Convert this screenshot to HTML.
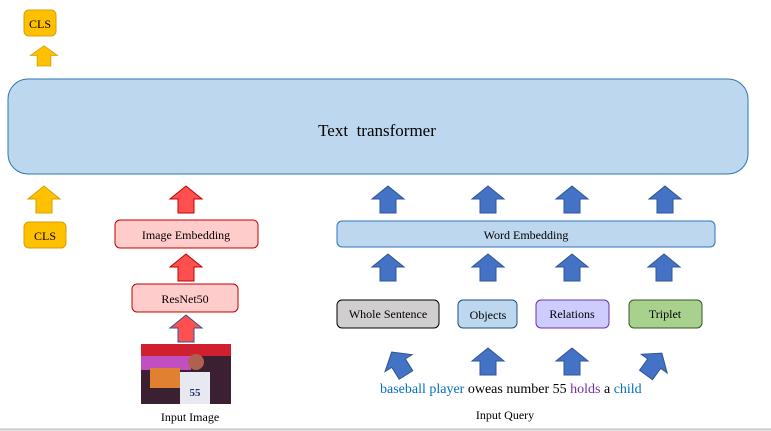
<!DOCTYPE html>
<html><head><style>
body{margin:0;background:#fff;}
svg{display:block;}
text{font-family:"Liberation Serif","DejaVu Serif",serif;}
</style></head><body>
<svg width="771" height="431" viewBox="0 0 771 431" font-family="Liberation Serif, serif">
<defs>
<path id="ua" d="M-8,0 L-8,-14 L-16,-14 L0,-27 L16,-14 L8,-14 L8,0 Z"/>
</defs>
<rect width="771" height="431" fill="#fff"/>
<rect x="24" y="10" width="32" height="26" rx="5" fill="#ffc000" stroke="#d4a000"/>
<text x="40" y="28" font-size="12" text-anchor="middle" font-family="Liberation Serif, serif">CLS</text>
<use href="#ua" transform="translate(44,66) scale(0.85,0.75)" fill="#ffc000" stroke="#d4a000"/>
<rect x="8" y="79" width="740" height="95" rx="20" fill="#bdd7ee" stroke="#2e75b6"/>
<text x="377" y="136" font-size="17" text-anchor="middle" xml:space="preserve" font-family="Liberation Serif, serif">Text  transformer</text>
<use href="#ua" transform="translate(44,213)" fill="#ffc000" stroke="#d4a000"/>
<use href="#ua" transform="translate(186,213)" fill="#ff5050" stroke="#c00000"/>
<g fill="#4472c4" stroke="#2f5597">
<use href="#ua" transform="translate(388,213)"/>
<use href="#ua" transform="translate(488,213)"/>
<use href="#ua" transform="translate(572,213)"/>
<use href="#ua" transform="translate(665,213)"/>
</g>
<g font-family="Liberation Serif, serif" font-size="12" text-anchor="middle">
<rect x="24" y="222" width="42" height="26" rx="5" fill="#ffc000" stroke="#d4a000"/>
<text x="45" y="240">CLS</text>
<rect x="115" y="220" width="143" height="28" rx="5" fill="#ffcccc" stroke="#c00000"/>
<text x="186" y="239">Image Embedding</text>
<rect x="337" y="221" width="378" height="26" rx="5" fill="#bdd7ee" stroke="#2e75b6"/>
<text x="526" y="239">Word Embedding</text>
</g>
<use href="#ua" transform="translate(186,281)" fill="#ff5050" stroke="#c00000"/>
<g fill="#4472c4" stroke="#2f5597">
<use href="#ua" transform="translate(388,281)"/>
<use href="#ua" transform="translate(488,281)"/>
<use href="#ua" transform="translate(572,281)"/>
<use href="#ua" transform="translate(664,281)"/>
</g>
<rect x="132" y="284" width="106" height="28" rx="5" fill="#ffcccc" stroke="#c00000"/>
<text x="185" y="303" font-size="12" text-anchor="middle" font-family="Liberation Serif, serif">ResNet50</text>
<use href="#ua" transform="translate(186,342)" fill="#ff5050" stroke="#2f5597"/>
<rect x="141" y="344" width="90" height="60" fill="#3a2030"/>
<rect x="141" y="344" width="90" height="12" fill="#d02030"/>
<rect x="141" y="356" width="50" height="14" fill="#c050c0"/>
<rect x="150" y="368" width="30" height="20" fill="#e08030"/>
<rect x="180" y="372" width="30" height="32" fill="#e8e8f0"/>
<circle cx="196" cy="362" r="8" fill="#b06050"/>
<text x="195" y="396" font-size="11" font-family="Liberation Sans, sans-serif" font-weight="bold" fill="#203070" text-anchor="middle">55</text>
<g font-family="Liberation Serif, serif" font-size="12" text-anchor="middle">
<text x="190" y="421">Input Image</text>
<rect x="337" y="300" width="102" height="28" rx="5" fill="#d0cece" stroke="#000"/>
<text x="388" y="318">Whole Sentence</text>
<rect x="458" y="300" width="59" height="28" rx="5" fill="#bdd7ee" stroke="#1f4e79"/>
<text x="488" y="319">Objects</text>
<rect x="536" y="300" width="73" height="28" rx="5" fill="#ccccff" stroke="#7030a0"/>
<text x="572" y="318">Relations</text>
<rect x="629" y="300" width="73" height="28" rx="5" fill="#a9d18e" stroke="#385723"/>
<text x="665" y="318">Triplet</text>
<text x="505" y="419">Input Query</text>
</g>
<g fill="#4472c4" stroke="#2f5597">
<use href="#ua" transform="translate(406,375) rotate(-32)"/>
<use href="#ua" transform="translate(488,375)"/>
<use href="#ua" transform="translate(572,375)"/>
<use href="#ua" transform="translate(646,375) rotate(36)"/>
</g>
<text x="380" y="393" font-size="14" font-family="Liberation Serif, serif"><tspan fill="#0070c0">baseball player</tspan> oweas number 55 <tspan fill="#7030a0">holds</tspan> a <tspan fill="#0070c0">child</tspan></text>
<line x1="0" y1="429.5" x2="771" y2="429.5" stroke="#c8c8c8" stroke-width="2"/>
</svg>
</body></html>
